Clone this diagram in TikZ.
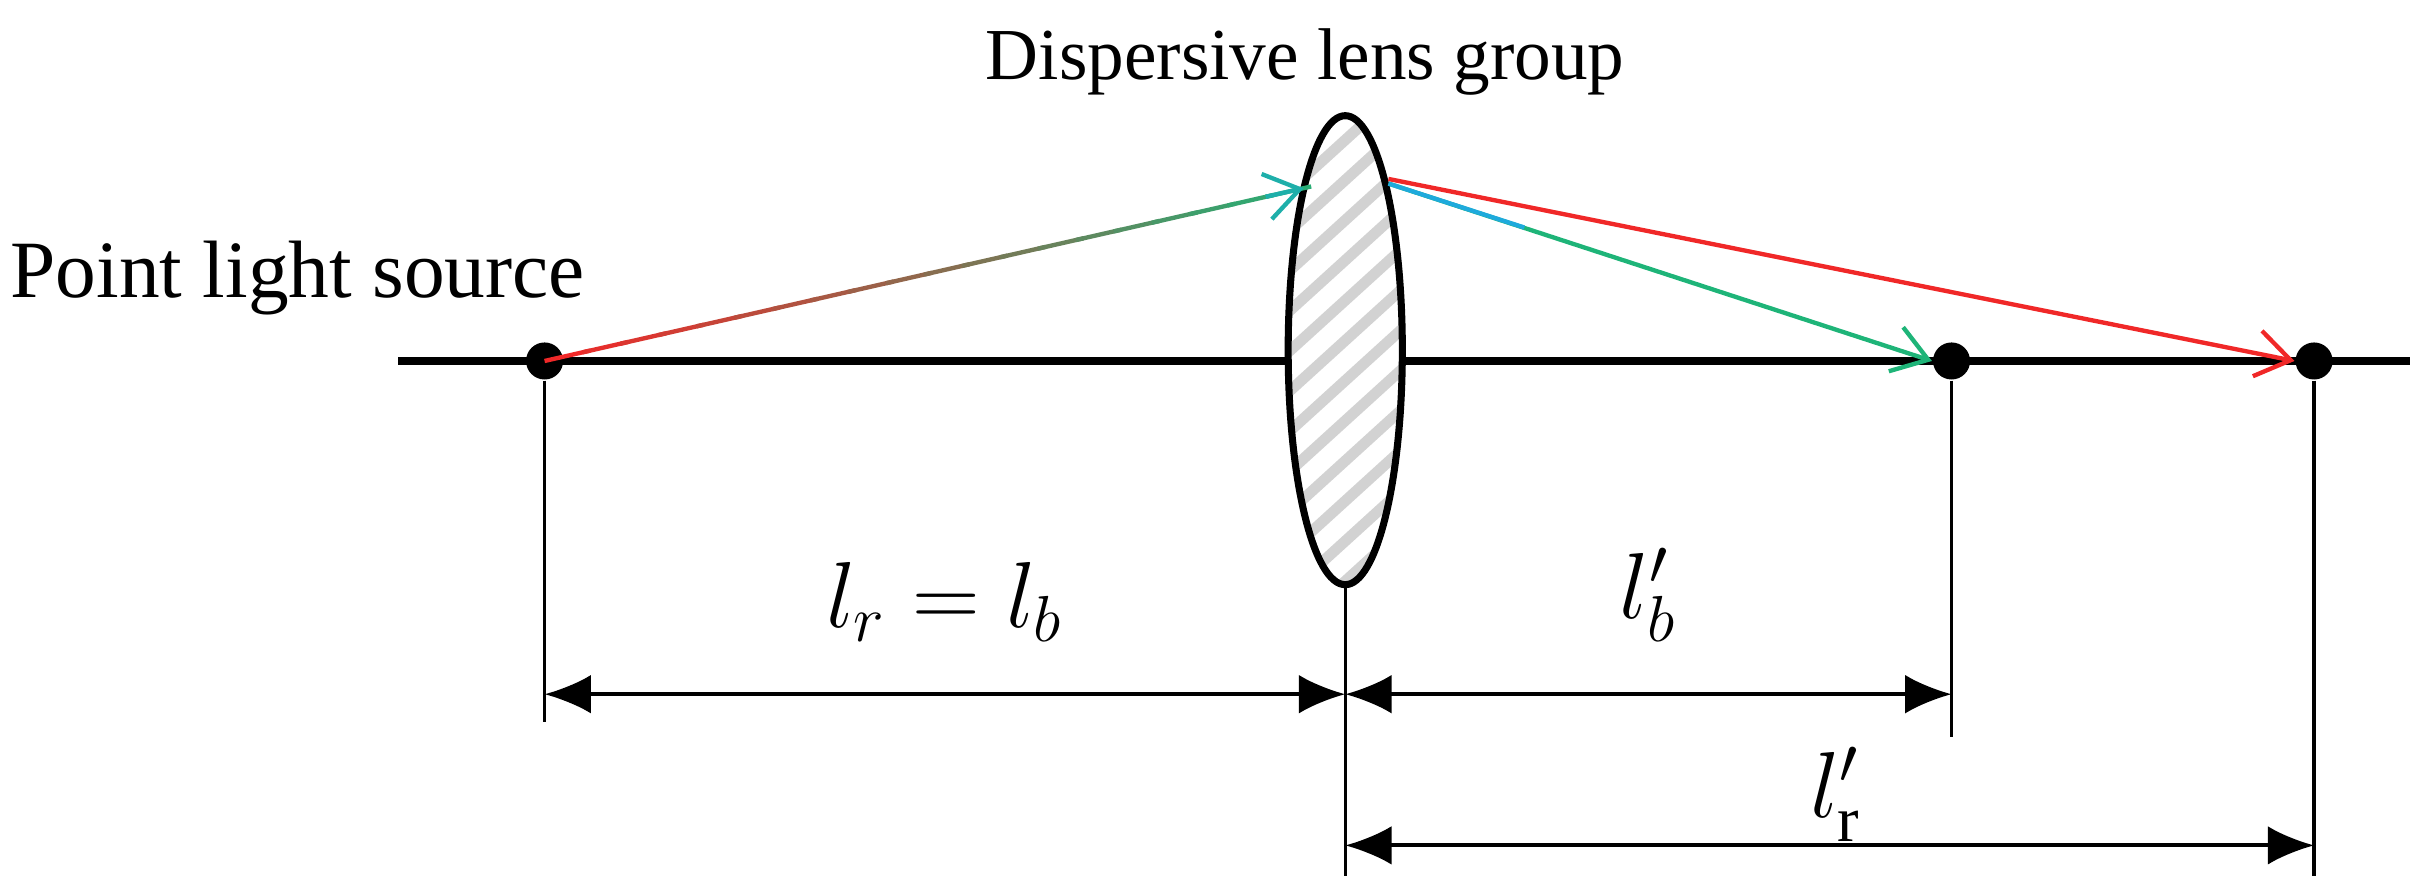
\documentclass[tikz,border=0pt]{standalone}
\usepackage{fontspec}
\setmainfont{Liberation Serif}
\usetikzlibrary{positioning,arrows.meta,calc}

\tikzset{
  dot/.style={circle, fill=black, inner sep=0pt, minimum size=0.24cm},
  axis/.style={line width=1.6pt},
  guide/.style={line width=0.6pt},
  dim/.style={line width=0.7pt, {Latex[length=0.3cm,width=0.25cm]}-{Latex[length=0.3cm,width=0.25cm]}},
  ray/.style={line width=0.8pt, -{Straight Barb[length=0.22cm,width=0.3cm]}},
  lbl/.style={font=\fontsize{15}{17}\selectfont},
  mlbl/.style={font=\fontsize{17}{19}\selectfont}
}
\definecolor{rayred}{RGB}{240,40,40}
\definecolor{raygreen}{RGB}{30,180,120}
\definecolor{raycyan}{RGB}{30,170,220}

\begin{document}
\begin{tikzpicture}[x=0.01cm, y=-0.01cm]
  \useasboundingbox (0,0) rectangle (1568,580);

  % optical axis
  \coordinate (axL) at (258,234);
  \coordinate (axR) at (1562,234);
  \draw [axis] (axL) -- (axR);

  % lens with hatching
  \begin{scope}
    \clip (872,227) ellipse [x radius=37, y radius=152];
    \fill [white] (872,227) ellipse [x radius=37, y radius=152];
    \foreach \k in {-8,...,14}
      \draw [gray!35, line width=2pt] (820,60+\k*26) -- (930,-40+\k*26);
  \end{scope}
  \draw [line width=1.3pt] (872,227) ellipse [x radius=37, y radius=152];
  \coordinate (lensB) at (872,380);

  % points
  \node [dot] (src) at (353,234) {};
  \node [dot] (imgb) at (1265,234) {};
  \node [dot] (imgr) at (1500,234) {};

  \node [lbl] (srcT) at (193,180) {Point light source};
  \node [lbl, font=\fontsize{13.5}{16}\selectfont] (lensT) at (846,40) {Dispersive lens group};

  % incoming ray, red to green
  \coordinate (hitA) at (845,122);
  \foreach \t in {0,...,19}
    \pgfmathsetmacro{\p}{\t*5}
    \draw [line width=0.8pt, raygreen!\p!rayred]
      ($(src)!\t/20!(hitA)$) -- ($(src)!\t/20+0.06!(hitA)$);
  \draw [ray, raycyan!50!raygreen] ($(src)!0.95!(hitA)$) -- (hitA);

  % outgoing rays
  \coordinate (hitB) at (900,116);
  \draw [ray, rayred] (hitB) -- (imgr.west);
  \draw [ray, raygreen] ($(hitB)+(0,3)$) -- (imgb.west);
  \draw [line width=0.8pt, raycyan] ($(hitB)+(0,3)$) -- ($(hitB)!0.25!(imgb.west)+(0,2)$);

  % guides
  \coordinate (srcD) at (353,468);
  \coordinate (lensD) at (872,568);
  \coordinate (imgbD) at (1265,478);
  \coordinate (imgrD) at (1500,568);
  \draw [guide] (src) -- (srcD);
  \draw [guide] (lensB) -- (lensD);
  \draw [guide] (imgb) -- (imgbD);
  \draw [guide] (imgr) -- (imgrD);

  % dimensions
  \coordinate (d1a) at (353,450);
  \coordinate (d1b) at (872,450);
  \coordinate (d2b) at (1265,450);
  \coordinate (d3a) at (872,548);
  \coordinate (d3b) at (1500,548);
  \draw [dim] (d1a) -- (d1b) node [mlbl, midway, above=6pt] {$l_r = l_b$};
  \draw [dim] (d1b) -- (d2b) node [mlbl, midway, above=6pt] {$l'_b$};
  \draw [dim] (d3a) -- (d3b);
  \node [mlbl] (lrT) at (1190,515) {$l'_{\mathrm{r}}$};
\end{tikzpicture}
\end{document}
